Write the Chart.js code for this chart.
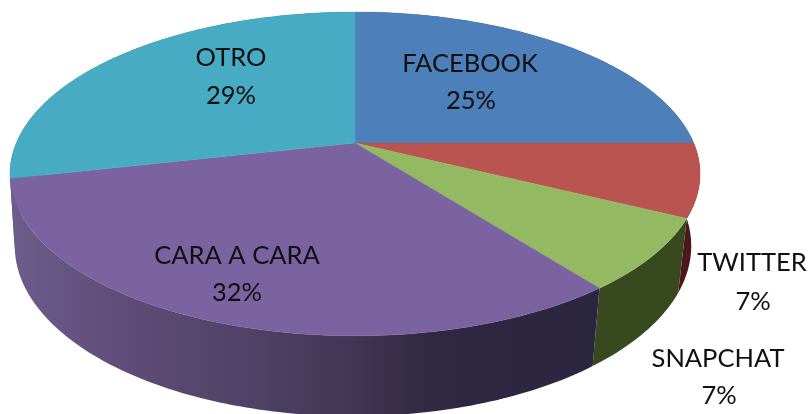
<!DOCTYPE html>
<html>
<head>
<meta charset="utf-8">
<script src="https://cdn.jsdelivr.net/npm/chart.js@4"></script>
<style>html,body{margin:0;padding:0;background:#fff}canvas{display:block}</style>
</head>
<body>
<canvas id="c" width="808" height="414"></canvas>
<script>
const categories = ['FACEBOOK', 'TWITTER', 'SNAPCHAT', 'CARA A CARA', 'OTRO'];
const shares = [25, 7.3, 7.2, 32, 28.5];
const percentLabels = ['25%', '7%', '7%', '32%', '29%'];
const topColors = ['#4d7fba', '#b95450', '#93ba63', '#7b62a0', '#47abc3'];

// Perspective of the tilted disc (the library supplies each slice's angles).
const K = -0.191;
const TOP = {x: 355, y: 143, a: 338.7, b: 156};
const BOTTOM = {x: 353, y: 213.5, a: 332, b: 164};
const project = (ang, f) => {
  const u = Math.cos(ang), v = Math.sin(ang), d = 1 + K * v;
  return [f.x + f.a * u / d, f.y + f.b * v / d];
};
const STEP = Math.PI / 180;
const rimAngles = (s, e) => {
  const out = [];
  for (let t = s; t < e; t += STEP) out.push(t);
  out.push(e);
  return out;
};
function sideFill(ctx, i) {
  const stops = {
    0: [[0, '#2c4466'], [1, '#2c4466']],
    1: [[0, '#4d171b'], [1, '#4d171b']],
    2: [[0, '#39491f'], [1, '#39491f']],
    3: [[0, '#6b5c8b'], [0.18, '#5f4d78'], [0.4, '#4f4266'], [0.58, '#403654'], [0.72, '#302741'], [1, '#2b2640']],
    4: [[0, '#26606f'], [1, '#26606f']]
  }[i];
  const g = ctx.createLinearGradient(15, 0, 600, 0);
  stops.forEach(s => g.addColorStop(s[0], s[1]));
  return g;
}
const labelPlaces = [
  [[470, 64], [471, 101]],
  [[752, 263], [753, 302]],
  [[718, 359], [719, 396]],
  [[237, 256], [237, 293]],
  [[231, 58], [231, 96]]
];
const tiltedPie = {
  id: 'tiltedPie',
  beforeDatasetsDraw(chart) {
    const ctx = chart.ctx;
    const arcs = chart.getDatasetMeta(0).data;
    ctx.save();
    [0, 4, 1, 2, 3].forEach(i => {
      const pts = rimAngles(arcs[i].startAngle, arcs[i].endAngle);
      ctx.beginPath();
      pts.forEach((t, n) => {
        const p = project(t, TOP);
        n ? ctx.lineTo(p[0], p[1]) : ctx.moveTo(p[0], p[1]);
      });
      pts.slice().reverse().forEach(t => {
        const p = project(t, BOTTOM);
        ctx.lineTo(p[0], p[1]);
      });
      ctx.closePath();
      ctx.fillStyle = sideFill(ctx, i);
      ctx.fill();
    });
    arcs.forEach((arc, i) => {
      ctx.beginPath();
      ctx.moveTo(TOP.x, TOP.y);
      rimAngles(arc.startAngle, arc.endAngle).forEach(t => {
        const p = project(t, TOP);
        ctx.lineTo(p[0], p[1]);
      });
      ctx.closePath();
      ctx.fillStyle = topColors[i];
      ctx.strokeStyle = topColors[i];
      ctx.lineWidth = 0.4;
      ctx.fill();
      ctx.stroke();
    });
    ctx.restore();
    return false;
  },
  afterDraw(chart) {
    const ctx = chart.ctx;
    ctx.save();
    ctx.font = '25.5px Lato';
    ctx.fillStyle = '#101010';
    ctx.textAlign = 'center';
    ctx.textBaseline = 'middle';
    categories.forEach((name, i) => {
      ctx.fillText(name, labelPlaces[i][0][0], labelPlaces[i][0][1]);
      ctx.fillText(percentLabels[i], labelPlaces[i][1][0], labelPlaces[i][1][1]);
    });
    ctx.restore();
  }
};
new Chart(document.getElementById('c'), {
  type: 'pie',
  data: {labels: categories, datasets: [{data: shares, backgroundColor: topColors, borderWidth: 0}]},
  options: {
    responsive: false,
    animation: false,
    plugins: {legend: {display: false}, tooltip: {enabled: false}}
  },
  plugins: [tiltedPie]
});
</script>
</body>
</html>
